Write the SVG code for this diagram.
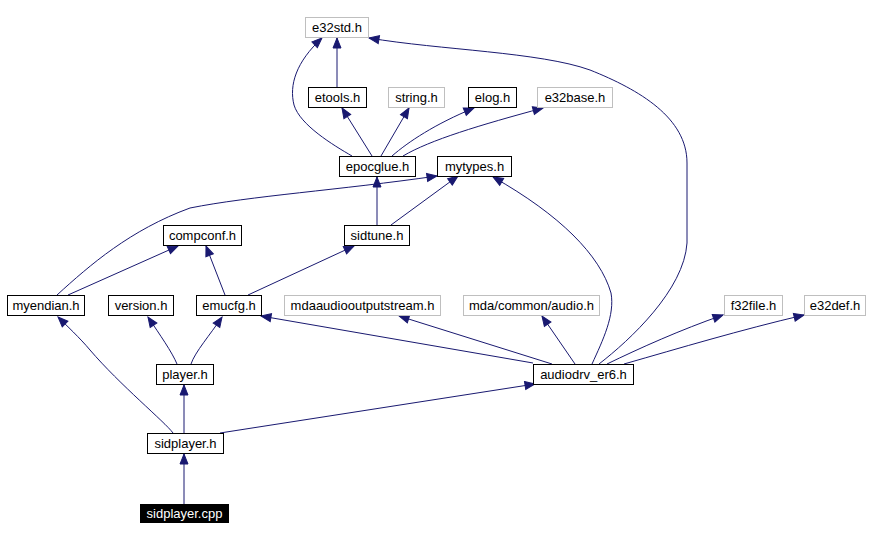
<svg xmlns="http://www.w3.org/2000/svg" width="870" height="540" viewBox="0 0 870 540">
<style>
.n rect{fill:#fff;stroke:#000;stroke-width:1}
.g rect{fill:#fff;stroke:#bfbfbf;stroke-width:1}
text{font-family:"Liberation Sans",Arial,sans-serif;font-size:13px;text-anchor:middle;fill:#000}
.e path{fill:none;stroke:#191970;stroke-width:1;marker-end:url(#a)}
</style>
<defs>
<marker id="a" markerWidth="11" markerHeight="9" refX="10" refY="4" orient="auto" markerUnits="userSpaceOnUse" overflow="visible">
<path d="M0,0 L10,4 L0,8 z" fill="#191970" stroke="#191970" stroke-width="1"/>
</marker>
</defs>
<rect width="870" height="540" fill="#fff"/>
<g class="e" id="edges">
<path d="M337,87 L337,38"/>
<path d="M352,156 C333,145 300,125 294,105 C289,85 296,62 322,38"/>
<path d="M372,156 L342,108"/>
<path d="M381,156 L409,108"/>
<path d="M392,156 C408,142 435,124 474,108"/>
<path d="M403,156 C430,140 480,125 543,108"/>
<path d="M599,364 C630,340 684,290 687,243 L687,163 C687,118 640,90 590,70 C540,52 440,50 369,38"/>
<path d="M377,225 L377,177"/>
<path d="M391,225 L458,176"/>
<path d="M57,295 C90,265 130,230 190,208 C250,196 340,190 437,176"/>
<path d="M68,295 L178,246"/>
<path d="M225,295 L206,246"/>
<path d="M248,295 L354,246"/>
<path d="M592,364 C603,340 615,315 611,293 C600,255 560,215 493,177"/>
<path d="M533,363 L261,316"/>
<path d="M552,364 L399,316"/>
<path d="M575,364 L542,316"/>
<path d="M607,364 C640,348 680,330 723,315"/>
<path d="M624,364 C680,348 740,330 804,315"/>
<path d="M177,364 C172,352 160,335 148,317"/>
<path d="M191,364 C195,352 210,335 222,317"/>
<path d="M173,433 C165,422 120,385 90,350 C80,338 66,325 58,317"/>
<path d="M184,433 L184,385"/>
<path d="M220,433 L535,384"/>
<path d="M184,504 L184,454"/>
</g>
<g id="e32std" class="g"><rect x="305.5" y="17.5" width="63" height="20"/><text x="337" y="32">e32std.h</text></g>
<g id="etools" class="n"><rect x="308.5" y="87.5" width="58" height="20"/><text x="337.5" y="102">etools.h</text></g>
<g id="string" class="g"><rect x="388.5" y="87.5" width="56" height="20"/><text x="416.5" y="102">string.h</text></g>
<g id="elog" class="n"><rect x="468.5" y="87.5" width="48" height="20"/><text x="492.5" y="102">elog.h</text></g>
<g id="e32base" class="g"><rect x="537.5" y="87.5" width="75" height="20"/><text x="575" y="102">e32base.h</text></g>
<g id="epocglue" class="n"><rect x="339.5" y="156.5" width="76" height="20"/><text x="377.5" y="171">epocglue.h</text></g>
<g id="mytypes" class="n"><rect x="437.5" y="156.5" width="74" height="20"/><text x="474.5" y="171">mytypes.h</text></g>
<g id="compconf" class="n"><rect x="163.5" y="225.5" width="78" height="20"/><text x="202.5" y="240">compconf.h</text></g>
<g id="sidtune" class="n"><rect x="344.5" y="225.5" width="65" height="20"/><text x="377" y="240">sidtune.h</text></g>
<g id="myendian" class="n"><rect x="7.5" y="295.5" width="77" height="20"/><text x="46" y="310">myendian.h</text></g>
<g id="version" class="n"><rect x="108.5" y="295.5" width="65" height="20"/><text x="141" y="310">version.h</text></g>
<g id="emucfg" class="n"><rect x="196.5" y="295.5" width="65" height="20"/><text x="229" y="310">emucfg.h</text></g>
<g id="mdaaudiooutputstream" class="g"><rect x="284.5" y="295.5" width="156" height="20"/><text x="362.5" y="310">mdaaudiooutputstream.h</text></g>
<g id="mdacommonaudio" class="g"><rect x="463.5" y="295.5" width="136" height="20"/><text x="531.5" y="310">mda/common/audio.h</text></g>
<g id="f32file" class="g"><rect x="724.5" y="295.5" width="58" height="20"/><text x="753.5" y="310">f32file.h</text></g>
<g id="e32def" class="g"><rect x="804.5" y="295.5" width="61" height="20"/><text x="835" y="310">e32def.h</text></g>
<g id="audiodrv_er6" class="n"><rect x="533.5" y="364.5" width="100" height="20"/><text x="583.5" y="379">audiodrv_er6.h</text></g>
<g id="player" class="n"><rect x="156.5" y="364.5" width="57" height="20"/><text x="185" y="379">player.h</text></g>
<g id="sidplayer_h" class="n"><rect x="147.5" y="433.5" width="76" height="20"/><text x="185.5" y="448">sidplayer.h</text></g>
<g id="sidplayer_cpp"><rect x="140" y="504" width="89" height="19" fill="#000"/><text x="184.5" y="518" style="fill:#fff">sidplayer.cpp</text></g>
</svg>
